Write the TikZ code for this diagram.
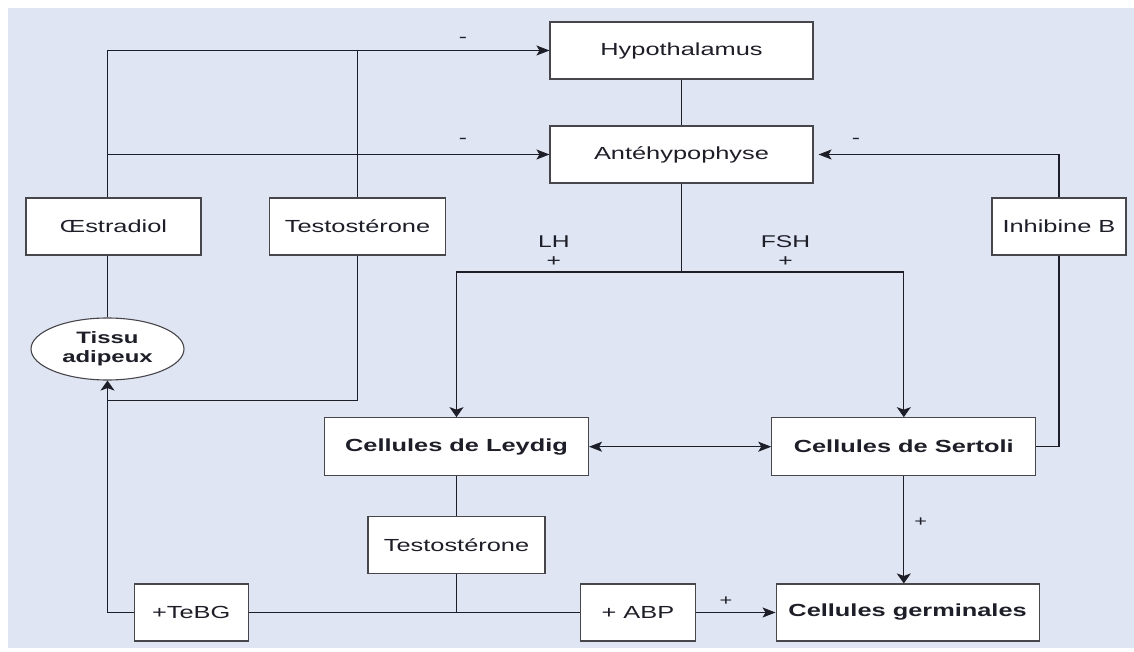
\documentclass[tikz,border=0pt]{standalone}
\usepackage{fontspec}
\setmainfont{Liberation Sans}[FakeStretch=1.45]
\usetikzlibrary{arrows.meta,shapes.geometric}
\definecolor{bgblue}{RGB}{223,229,242}
\definecolor{edge}{RGB}{70,70,75}
\definecolor{ink}{RGB}{30,30,40}
\begin{document}
\begin{tikzpicture}[x=1pt,y=-1pt,
  box/.style={draw=edge,fill=white,line width=1.1pt,inner sep=0pt,minimum width=#1,minimum height=57pt,font=\fontsize{17.5}{20}\selectfont,text=ink},
  bbox/.style={box=#1,font=\fontsize{17.5}{20}\selectfont\bfseries},
  line/.style={draw=ink,line width=1.1pt},
  harr/.style={-{Stealth[length=13pt,width=10pt,inset=3pt]}},
  varr/.style={-{Stealth[length=10pt,width=14pt,inset=2.5pt]}},
  lab/.style={inner sep=0pt,text=ink,font=\fontsize{17}{18}\selectfont},
  slab/.style={inner sep=0pt,text=ink,font=\fontsize{15}{16}\selectfont}
]
\fill[white] (0,0) rectangle (1134,652);
\fill[bgblue] (7.7,8) rectangle (1134,648);
\useasboundingbox (0,0) rectangle (1134,652);

\node[box=263pt] (hyp) at (681.5,50.5) {Hypothalamus};
\node[box=263pt] (ante) at (681.5,154.5) {Antéhypophyse};
\node[box=175pt] (oe) at (113.5,226.5) {Œstradiol};
\node[box=176pt] (te1) at (357.5,226.5) {Testostérone};
\node[box=134pt] (inh) at (1059,226.5) {Inhibine B};
\node[ellipse,draw=edge,fill=white,line width=1.1pt,minimum width=153pt,minimum height=62pt,inner sep=0pt,align=center,text=ink,font=\fontsize{16.5}{19}\selectfont\bfseries] (tis) at (107.5,349) {Tissu\\adipeux};
\node[bbox=264pt,minimum height=58pt] (ley) at (456.5,446.7) {Cellules de Leydig};
\node[bbox=264pt,minimum height=58pt] (ser) at (903.8,446.7) {Cellules de Sertoli};
\node[box=177pt] (te2) at (456.5,545) {Testostérone};
\node[box=114pt] (tebg) at (191.2,612.5) {+TeBG};
\node[box=115pt] (abp) at (637.9,612.5) {+ ABP};
\node[bbox=263pt] (germ) at (907.6,612.5) {Cellules germinales};

\coordinate (split) at (681.5,272);
\coordinate (tcorner) at (107.5,400.7);

% feedback to hypothalamus / anterior pituitary
\draw[line,harr] (oe.north -| tis.north) |- (hyp.west);
\draw[line,harr] (tis.north |- ante.west) -- (ante.west);
\draw[line] (te1.north) -- (te1.north |- hyp.west);
\draw[line,harr] (inh.north) |- ([xshift=5pt]ante.east);
\draw[line] (hyp.south) -- (ante.north);

% LH / FSH
\draw[line] (ante.south) -- (split);
\draw[line,varr] (split) -| (ley.north);
\draw[line,varr] (split) -| (ser.north);
\draw[line,{Stealth[length=13pt,width=10pt,inset=3pt]}-{Stealth[length=13pt,width=10pt,inset=3pt]}] (ley.east) -- (ser.west);
\draw[line] (ser.east) -| (inh.south);
\draw[line,varr] (ser.south) -- (ser.south |- germ.north);

% adipose tissue
\draw[line] (oe.south -| tis.north) -- (tis.north);
\draw[line,varr] (te1.south) |- (tcorner) -- (tis.south);
\draw[line] (tebg.west) -| (tcorner);

% testosterone path
\draw[line] (ley.south) -- (te2.north);
\draw[line] (te2.south) -- (te2.south |- tebg.east);
\draw[line] (tebg.east) -- (abp.west);
\draw[line,harr] (abp.east) -- (germ.west);

% labels
\node[lab] (m1) at (463,40) {-};
\node[lab] (m2) at (463,141) {-};
\node[lab] (m3) at (856,141) {-};
\node[lab] (lh) at (553.8,242) {LH};
\node[lab] (lhp) at (553.8,262) {+};
\node[lab] (fsh) at (785.5,242) {FSH};
\node[lab] (fshp) at (785.5,262) {+};
\node[slab] (sp) at (920.7,521.7) {+};
\node[slab] (ap) at (726,601) {+};
\end{tikzpicture}
\end{document}
